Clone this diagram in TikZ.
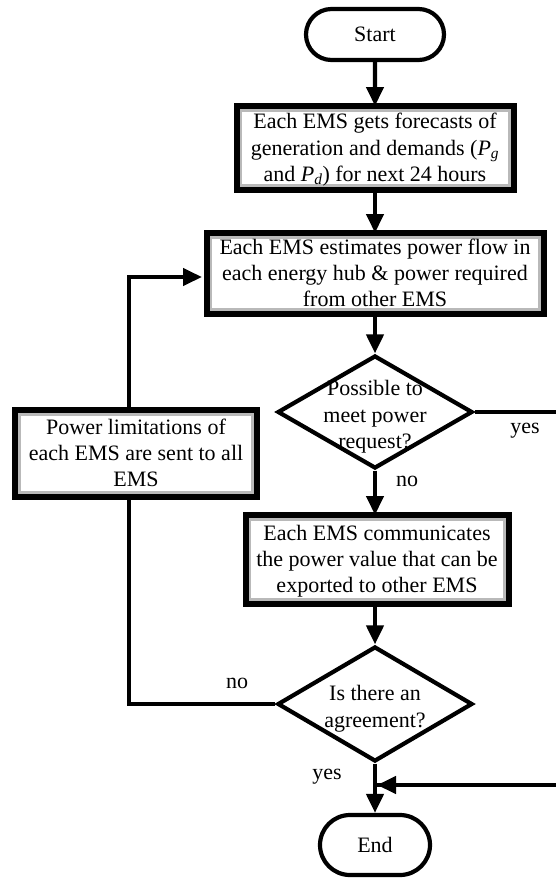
\documentclass[tikz,border=0pt]{standalone}
\usepackage{fontspec}
\setmainfont{Liberation Serif}
\usetikzlibrary{arrows.meta,shapes.misc,shapes.geometric,calc}
\pgfdeclarelayer{bg}
\pgfsetlayers{bg,main}
\newcommand\mytopstrut{\rule{0pt}{21pt}}
\newcommand\mybotstrut{\rule[-7pt]{0pt}{7pt}}
\begin{document}
\begin{tikzpicture}[x=1pt,y=-1pt,
  font=\fontsize{22}{26.2}\selectfont,
  term/.style={rounded rectangle, draw, line width=4.2pt, inner sep=0pt},
  proc/.style={rectangle, draw, line width=6pt, outer sep=0pt, inner sep=0pt, align=center},
  dec/.style={diamond, draw, line width=4.2pt, inner sep=0pt},
  conn/.style={line width=4.2pt},
  arr/.style={conn, -{Triangle[width=17pt,length=19pt]}},
  lbl/.style={inner sep=0pt}
]
\useasboundingbox (0,0) rectangle (555,879);

\node[term, minimum width=138pt, minimum height=51pt] (start) at (375,34.5) {Start};
\node[proc, minimum width=277pt, minimum height=84pt] (b1) at (375,148)
  {\mytopstrut Each EMS gets forecasts of\\ generation and demands ({\itshape P}\textsubscript{\itshape g}\\ and {\itshape P}\textsubscript{\itshape d}) for next 24 hours\mybotstrut};
\node[proc, minimum width=337pt, minimum height=81pt] (b2) at (375,273.5)
  {\mytopstrut Each EMS estimates power flow in\\ each energy hub \& power required\\ from other EMS\mybotstrut};
\node[dec, minimum width=195pt, minimum height=113pt] (d1) at (375,412) {};
\node[lbl, align=center] (d1t) at (375,415) {\mytopstrut Possible to\\ meet power\\ request?\mybotstrut};
\node[proc, minimum width=242pt, minimum height=87pt] (b3) at (136,453.5)
  {\mytopstrut Power limitations of\\ each EMS are sent to all\\ EMS\mybotstrut};
\node[proc, minimum width=263pt, minimum height=89pt] (b4) at (377,559.5)
  {\mytopstrut Each EMS communicates\\ the power value that can be\\ exported to other EMS\mybotstrut};
\node[dec, minimum width=195pt, minimum height=115pt] (d2) at (375,704) {};
\node[lbl, align=center] (d2t) at (375,707) {\mytopstrut Is there an\\ agreement?\mybotstrut};
\node[term, minimum width=110pt, minimum height=60pt] (end) at (375,845) {End};

% inner grey borders of process boxes
\begin{pgfonlayer}{bg}
\foreach \n in {b1,b2,b3,b4}
  \draw[gray!55, line width=2.8pt] ($(\n.north west)+(4.3,4.3)$) rectangle ($(\n.south east)+(-4.3,-4.3)$);
\end{pgfonlayer}

\coordinate (L) at (129,0);
\coordinate (R) at (559,0);
\coordinate (fb) at (202,277);
\coordinate (join) at (377,785);

\draw[arr] (start) -- (b1);
\draw[arr] (b1) -- (b2);
\draw[arr] (b2) -- (d1);
\draw[arr] (d1) -- (d1 |- b4.north);
\draw[arr] (b4.south -| d2) -- (d2);
\draw[arr] (d2) -- (end);
\draw[conn] (d1.east) -| (R |- join) -- (join);
\draw[arr] (R |- join) -- (join);
\draw[conn] (d2.west) -| (L |- b3.south);
\draw[arr] (L |- b3.north) |- (fb);

\node[lbl] (yes1) at (525,431) {yes};
\node[lbl] (no1) at (407,481) {no};
\node[lbl] (no2) at (237,683) {no};
\node[lbl] (yes2) at (327,777) {yes};
\end{tikzpicture}
\end{document}
